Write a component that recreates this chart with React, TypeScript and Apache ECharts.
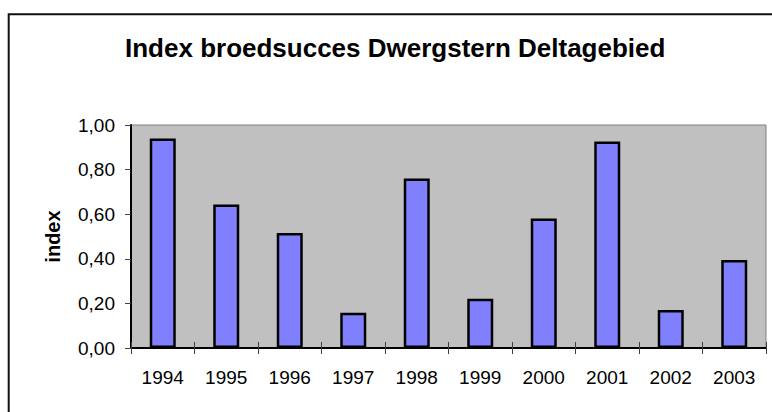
import React, { useEffect, useRef } from "react";
import * as echarts from "echarts";

const years = ["1994", "1995", "1996", "1997", "1998", "1999", "2000", "2001", "2002", "2003"];
const indexValues = [0.94, 0.644, 0.516, 0.158, 0.76, 0.221, 0.581, 0.926, 0.17, 0.395];
const yTicks = { min: 0, max: 1, interval: 0.2 };
const titleText = "Index broedsucces Dwergstern Deltagebied";
const yName = "index";

const FONT = "'Liberation Sans', Arial, sans-serif";

export default function App() {
  const ref = useRef<HTMLDivElement>(null);
  useEffect(() => {
    document.body.style.margin = "0";
    const chart = echarts.init(ref.current!, undefined, { renderer: "svg" });
    chart.setOption({
      animation: false,
      backgroundColor: "#ffffff",
      textStyle: { fontFamily: FONT },
      title: {
        text: titleText,
        left: 125,
        top: 35,
        padding: 0,
        textStyle: { fontFamily: FONT, fontSize: 26, fontWeight: "bold", color: "#000" },
      },
      graphic: [
        {
          type: "rect",
          shape: { x: 8.7, y: 14.3, width: 820, height: 440 },
          style: { fill: "none", stroke: "#111", lineWidth: 2 },
          silent: true,
          z: -1,
        },
      ],
      grid: {
        left: 131,
        top: 125,
        right: 6,
        bottom: 64,
        show: true,
        backgroundColor: "#C0C0C0",
        borderColor: "#808080",
        borderWidth: 1,
      },
      xAxis: [
        {
          type: "category",
          data: years,
          position: "bottom",
          boundaryGap: true,
          axisLine: { show: true, lineStyle: { color: "#000", width: 2 } },
          axisTick: { show: true, length: 6, lineStyle: { color: "#404040", width: 1 } },
          axisLabel: { margin: 20, fontSize: 19, color: "#000", fontFamily: FONT },
          splitLine: { show: false },
        },
        {
          type: "category",
          data: years,
          position: "bottom",
          boundaryGap: true,
          axisLine: { show: false },
          axisTick: { show: true, inside: true, length: 6, lineStyle: { color: "#404040", width: 1 } },
          axisLabel: { show: false },
          splitLine: { show: false },
        },
      ],
      yAxis: {
        type: "value",
        min: yTicks.min,
        max: yTicks.max,
        interval: yTicks.interval,
        name: yName,
        nameLocation: "middle",
        nameGap: 68,
        nameRotate: 90,
        nameTextStyle: { fontFamily: FONT, fontSize: 20, fontWeight: "bold", color: "#000" },
        axisLine: { show: true, lineStyle: { color: "#000", width: 2 } },
        axisTick: { show: true, length: 6, lineStyle: { color: "#404040", width: 1 } },
        axisLabel: {
          margin: 16,
          fontSize: 19,
          color: "#000",
          fontFamily: FONT,
          formatter: (v: number) => v.toFixed(2).replace(".", ","),
        },
        splitLine: { show: false },
      },
      series: [
        {
          type: "bar",
          xAxisIndex: 0,
          data: indexValues,
          barWidth: 26,
          itemStyle: { color: "#8080FF", borderColor: "#000", borderWidth: 2.5 },
        },
      ],
    });
    return () => chart.dispose();
  }, []);
  return <div ref={ref} style={{ width: 772, height: 412 }} />;
}
